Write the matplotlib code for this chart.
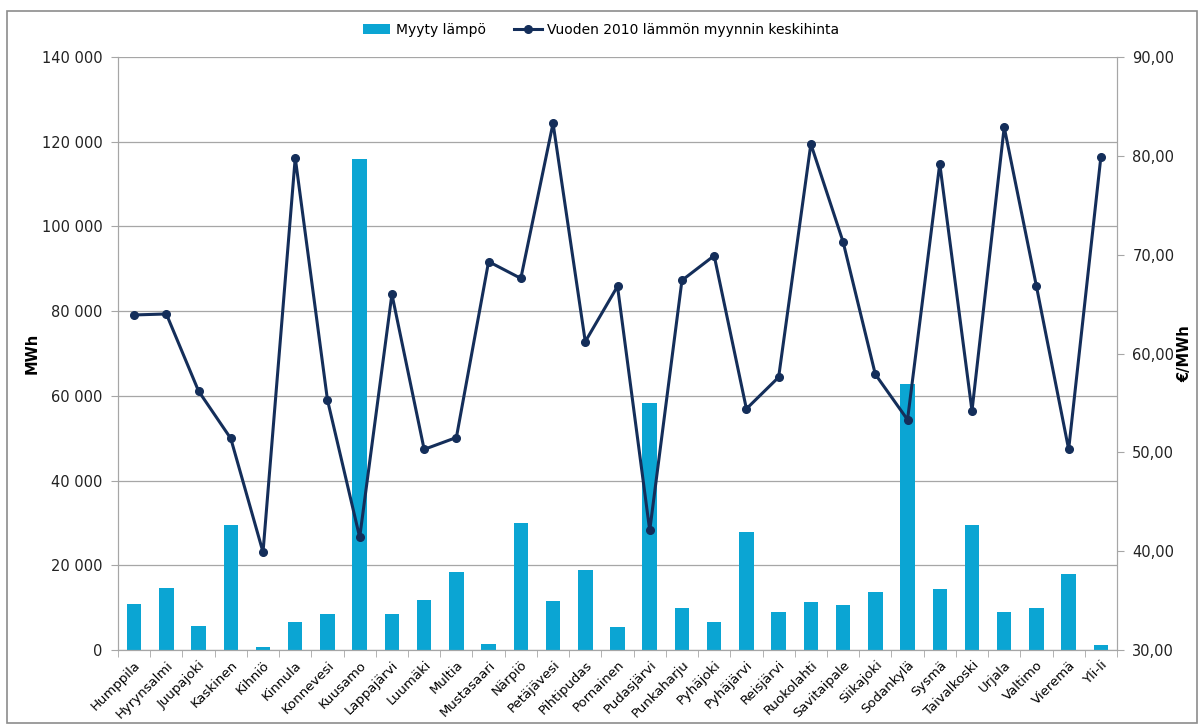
import numpy as np
import matplotlib.pyplot as plt
from matplotlib.patches import Rectangle
from matplotlib.ticker import FuncFormatter

kunnat = ['Humppila', 'Hyrynsalmi', 'Juupajoki', 'Kaskinen', 'Kihniö', 'Kinnula',
          'Konnevesi', 'Kuusamo', 'Lappajärvi', 'Luumäki', 'Multia', 'Mustasaari',
          'Närpiö', 'Petäjävesi', 'Pihtipudas', 'Pornainen', 'Pudasjärvi', 'Punkaharju',
          'Pyhäjoki', 'Pyhäjärvi', 'Reisjärvi', 'Ruokolahti', 'Savitaipale', 'Siikajoki',
          'Sodankylä', 'Sysmä', 'Taivalkoski', 'Urjala', 'Valtimo', 'Vieremä', 'Yli-Ii']

myyty_lampo = [10900, 14700, 5700, 29500, 700, 6600, 8500, 115900, 8500, 11800,
               18400, 1400, 30000, 11600, 18900, 5400, 58400, 9900, 6600, 27900,
               9000, 11300, 10600, 13700, 62900, 14300, 29600, 9000, 9900, 18000, 1200]

keskihinta = [63.9, 64.0, 56.2, 51.4, 39.9, 79.8, 55.3, 41.4, 66.0, 50.3,
              51.5, 69.3, 67.6, 83.3, 61.2, 66.8, 42.1, 67.4, 69.9, 54.4,
              57.6, 81.2, 71.3, 57.9, 53.3, 79.2, 54.2, 82.9, 66.8, 50.3, 79.9]

bar_color = '#0BA5D3'
line_color = '#142E5A'
grid_color = '#A6A6A6'

plt.rcParams['font.family'] = ['DejaVu Sans']

fig = plt.figure(figsize=(12.02, 7.24), dpi=100)
ax = fig.add_axes([118 / 1202, 1 - 650 / 724, (1117 - 118) / 1202, (650 - 57) / 724])
ax2 = ax.twinx()

x = np.arange(len(kunnat))
ax.bar(x, myyty_lampo, width=0.45, color=bar_color, zorder=2, label='Myyty lämpö')
ax2.plot(x, keskihinta, color=line_color, lw=2.2, marker='o', ms=5.5,
         zorder=3, label='Vuoden 2010 lämmön myynnin keskihinta')

ax.set_xlim(-0.5, len(kunnat) - 0.5)
ax.set_ylim(0, 140000)
ax.set_yticks(np.arange(0, 140001, 20000))
ax.yaxis.set_major_formatter(FuncFormatter(lambda v, p: f'{int(v):,}'.replace(',', ' ')))
ax2.set_ylim(30, 90)
ax2.set_yticks(np.arange(30, 91, 10))
ax2.yaxis.set_major_formatter(FuncFormatter(lambda v, p: f'{v:.2f}'.replace('.', ',')))

ax.yaxis.grid(True, color=grid_color, lw=0.9, zorder=0)
ax.set_axisbelow(True)

ax.set_xticks(x)
ax.set_xticklabels(kunnat, rotation=45, ha='right', rotation_mode='anchor', fontsize=9.5)
ax.set_xticks(np.arange(-0.5, len(kunnat), 1), minor=True)
ax.tick_params(axis='x', which='major', length=0, pad=6)
ax.tick_params(axis='x', which='minor', length=5, color=grid_color)
ax.tick_params(axis='y', length=5, color=grid_color, labelsize=10.5, pad=6, labelcolor='#222222')
ax2.tick_params(axis='y', length=5, color=grid_color, labelsize=10.5, pad=6, labelcolor='#222222')

for a in (ax, ax2):
    a.spines['top'].set_visible(False)
    for s in ('left', 'right', 'bottom'):
        a.spines[s].set_color(grid_color)

ax.set_ylabel('MWh', fontsize=10.5, fontweight='bold', labelpad=2)
ax2.set_ylabel('€/MWh', fontsize=10.5, fontweight='bold', labelpad=2)

h1, l1 = ax.get_legend_handles_labels()
h2, l2 = ax2.get_legend_handles_labels()
fig.legend(h1 + h2, l1 + l2, loc='center', bbox_to_anchor=(0.5, 1 - 30 / 724), ncol=2,
           frameon=False, fontsize=10, handlelength=2.0, columnspacing=2.0, handletextpad=0.4)

fig.patches.append(Rectangle((7 / 1202, 0.002), 1190 / 1202, 1 - 12 / 724, transform=fig.transFigure,
                             fill=False, edgecolor='#8C8C8C', lw=1.2))

fig.savefig('out.png', dpi=100)
